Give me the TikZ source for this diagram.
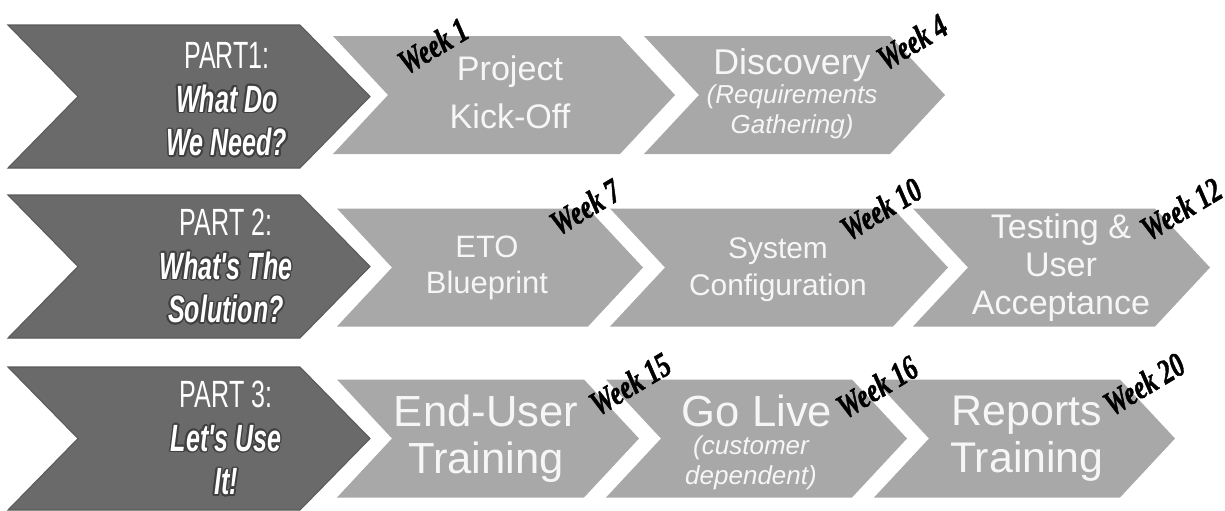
\documentclass[tikz,border=0pt]{standalone}
\usepackage{fontspec}
\setmainfont{Liberation Sans}
\newfontfamily\partfont{Liberation Sans}[FakeStretch=0.66]
\newfontfamily\weekfont{Liberation Serif}[FakeStretch=0.74,FakeBold=1.2]
\usepackage[copies]{contour}
\contourlength{0.45pt}
\definecolor{partgray}{HTML}{6A6A6A}
\definecolor{stepgray}{HTML}{A8A8A8}
\definecolor{steptext}{HTML}{F6F6F6}
\newcommand\partsub[1]{\contour{black!75}{\bfseries\itshape #1}}
\tikzset{
  part/.style={fill=partgray,draw=partgray!85!black,line width=0.3pt},
  stepfill/.style={fill=stepgray},
  parttext/.style={text=white,align=center,inner sep=0pt,font=\partfont\fontsize{10.8}{12.4}\selectfont},
  steptxt/.style={text=steptext,align=center,inner sep=0pt},
  week/.style={inner sep=0pt,rotate=31,font=\weekfont\bfseries\itshape\fontsize{9.8}{9.8}\selectfont}
}
\begin{document}
\begin{tikzpicture}[x=0.1mm,y=-0.1mm]
		\useasboundingbox (0,0) rectangle (1225,510);
		\def\ph{71.5}
		\def\sh{59}
		\foreach \y in {96.5,266.5,438.5}
			\filldraw[part] (8,\y-\ph) -- (300,\y-\ph) -- (370,\y) -- (300,\y+\ph) -- (8,\y+\ph) -- (78,\y) -- cycle;
		\foreach \l/\r/\y in {333/620/95,644/890/95,337/588/267.5,610/893/267.5,913/1155/267.5,337/584/438.5,606/852/438.5,874/1120/438.5}
			\fill[stepfill] (\l,\y-\sh) -- (\r,\y-\sh) -- (\r+55,\y) -- (\r,\y+\sh) -- (\l,\y+\sh) -- (\l+55,\y) -- cycle;
		\node[parttext] (part1) at (227,100) {PART1:\\\partsub{What Do}\\\partsub{We Need?}};
		\node[parttext] (part2) at (226,267) {PART 2:\\\partsub{What's The}\\\partsub{Solution?}};
		\node[parttext] (part3) at (226,439) {PART 3:\\\partsub{Let's Use}\\\partsub{It!}};
		\node[steptxt,font=\fontsize{9.7}{13.7}\selectfont] (kickoff) at (510,92) {Project\\Kick-Off};
		\node[steptxt,font=\fontsize{10.2}{12}\selectfont] (discovery) at (792,65) {Discovery};
		\node[steptxt,font=\fontsize{7.4}{8.5}\selectfont\itshape] (gathering) at (792,112) {(Requirements\\Gathering)};
		\node[steptxt,font=\fontsize{8.8}{10.2}\selectfont] (blueprint) at (487,268) {ETO\\Blueprint};
		\node[steptxt,font=\fontsize{8.5}{10.5}\selectfont] (config) at (778,270) {System\\Configuration};
		\node[steptxt,font=\fontsize{9.7}{10.8}\selectfont] (acceptance) at (1061,268) {Testing \&\\User\\Acceptance};
		\node[steptxt,font=\fontsize{12.4}{13.4}\selectfont] (enduser) at (486,439) {End-User\\Training};
		\node[steptxt,font=\fontsize{12.4}{13}\selectfont] (golive) at (757,411) {Go Live};
		\node[steptxt,font=\fontsize{7.4}{8.5}\selectfont\itshape] (customer) at (751,463) {(customer\\dependent)};
		\node[steptxt,font=\fontsize{12.2}{13.4}\selectfont] (reports) at (1027,439) {Reports\\Training};
		\foreach \n/\x/\y/\t in {w1/433/46/1,w4/912/42/4,w7/585/207/7,w10/881/209/10,w12/1181/209/12,w15/630/384/15,w16/877/387/16,w20/1144/384/20}
			\node[week] (\n) at (\x,\y) {Week \t};
	\end{tikzpicture}
\end{document}
